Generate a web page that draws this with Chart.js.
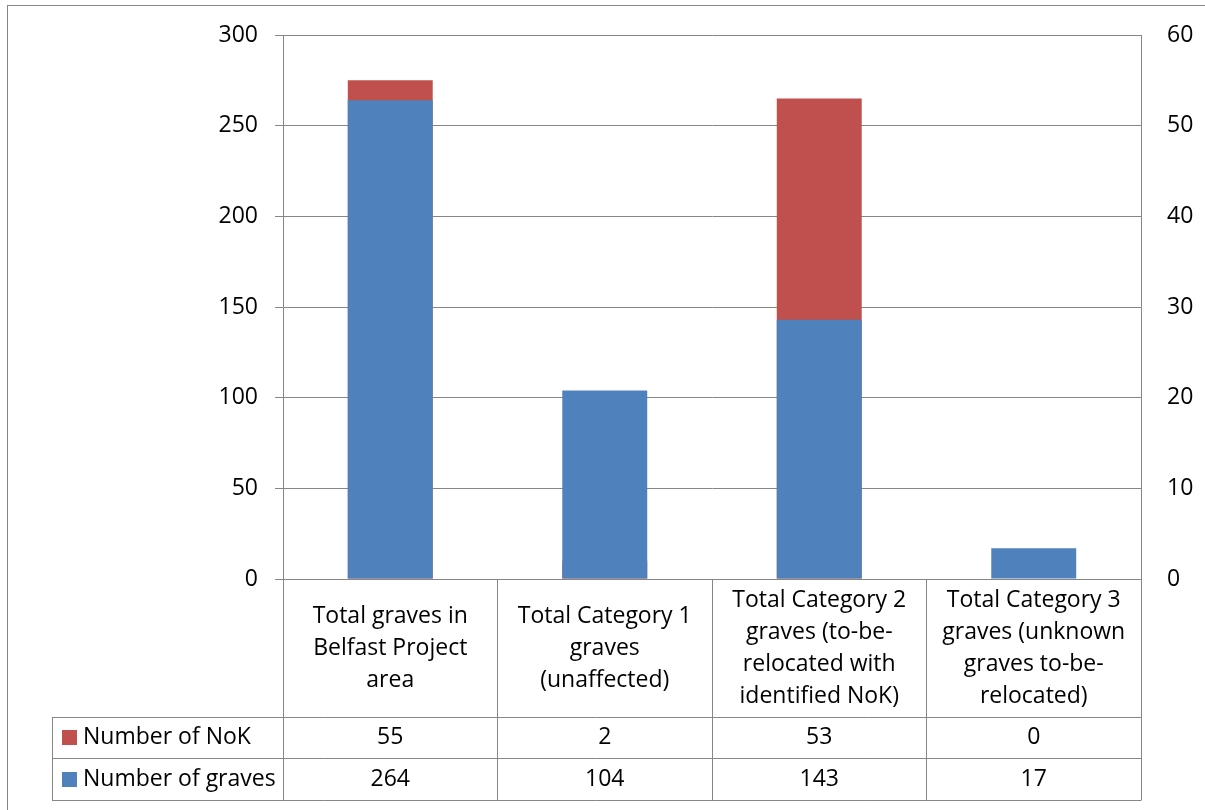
<!DOCTYPE html>
<html>
<head>
<meta charset="utf-8">
<script src="https://cdn.jsdelivr.net/npm/chart.js@4.4.0/dist/chart.umd.min.js"></script>
<style>
  html, body { margin: 0; padding: 0; background: #fff; }
  #wrap { width: 1205px; height: 810px; }
</style>
</head>
<body>
<div id="wrap"><canvas id="myChart" width="1205" height="810"></canvas></div>
<script>
// categories (already wrapped the way the table shows them)
var categories = [
  ['Total graves in', 'Belfast Project', 'area'],
  ['Total Category 1', 'graves', '(unaffected)'],
  ['Total Category 2', 'graves (to-be-', 'relocated with', 'identified NoK)'],
  ['Total Category 3', 'graves (unknown', 'graves to-be-', 'relocated)']
];
var nokCounts = [55, 2, 53, 0];
var graveCounts = [264, 104, 143, 17];
var leftTicks = [0, 50, 100, 150, 200, 250, 300];
var rightTicks = [0, 10, 20, 30, 40, 50, 60];

var blue = '#4F81BD';
var red = '#C0504D';
var lineGray = '#868686';
var fontFamily = '"Open Sans", sans-serif';
var fontSize = 23;

function snap(p) { return Math.round(p - 0.5) + 0.5; }

// fixed axis widths, and no extra label padding so the plot sits where the table expects it
function fitWidth(w) {
  return function(s) {
    s.width = w;
    s.paddingTop = 0;
    s.paddingBottom = 0;
  };
}

// draws the outer frame and the data table under the plot
var dataTable = {
  id: 'dataTable',
  beforeDraw: function(chart) {
    var c = chart.ctx;
    c.save();
    c.fillStyle = '#fff';
    c.fillRect(0, 0, chart.width, chart.height);
    c.strokeStyle = lineGray;
    c.lineWidth = 1;
    c.strokeRect(7.5, 5.5, chart.width + 40, chart.height + 40);
    c.restore();
  },
  afterDraw: function(chart) {
    var c = chart.ctx;
    var area = chart.chartArea;
    var xs = chart.scales.x;
    var n = categories.length;
    var colW = (area.right - area.left) / n;
    var top = area.bottom;
    var headBottom = top + 138;
    var rowH = 41.5;
    var legendLeft = 52;
    var rows = [
      { label: chart.data.datasets[0].label, color: red, values: nokCounts },
      { label: chart.data.datasets[1].label, color: blue, values: graveCounts }
    ];
    var bottom = headBottom + rowH * rows.length;

    function line(x1, y1, x2, y2) {
      c.beginPath(); c.moveTo(x1, y1); c.lineTo(x2, y2); c.stroke();
    }

    c.save();
    c.strokeStyle = lineGray;
    c.lineWidth = 1;
    line(area.left, snap(top), area.right, snap(top));
    line(legendLeft, snap(headBottom), area.right, snap(headBottom));
    for (var r = 0; r < rows.length; r++) {
      var yb = snap(headBottom + rowH * (r + 1));
      line(legendLeft, yb, area.right + 0.5, yb);
    }
    for (var i = 0; i <= n; i++) {
      var xl = snap(area.left + colW * i);
      line(xl, top, xl, bottom);
    }
    line(snap(legendLeft), headBottom, snap(legendLeft), bottom);

    c.fillStyle = '#000';
    c.font = fontSize + 'px ' + fontFamily;
    c.textBaseline = 'middle';
    c.textAlign = 'center';
    var lh = 32;
    var midHead = (top + headBottom) / 2;
    for (var j = 0; j < n; j++) {
      var cx = xs.getPixelForValue(j);
      var lines = categories[j];
      var y0 = midHead - (lines.length - 1) * lh / 2;
      for (var k = 0; k < lines.length; k++) {
        c.fillText(lines[k], cx, y0 + k * lh);
      }
    }
    for (var r2 = 0; r2 < rows.length; r2++) {
      var cy = headBottom + rowH * r2 + rowH / 2;
      c.fillStyle = rows[r2].color;
      c.fillRect(62, Math.round(cy - 7.5), 15, 15);
      c.fillStyle = '#000';
      c.textAlign = 'left';
      c.fillText(rows[r2].label, 83, cy);
      c.textAlign = 'center';
      for (var j2 = 0; j2 < n; j2++) {
        c.fillText(String(rows[r2].values[j2]), xs.getPixelForValue(j2), cy);
      }
    }
    c.restore();
  }
};

var ctx = document.getElementById('myChart').getContext('2d');
var chart = new Chart(ctx, {
  type: 'bar',
  data: {
    labels: categories,
    datasets: [{
      label: 'Number of NoK',
      data: nokCounts,
      yAxisID: 'y1',
      backgroundColor: red,
      grouped: false,
      order: 2,
      barPercentage: 0.396,
      categoryPercentage: 1
    }, {
      label: 'Number of graves',
      data: graveCounts,
      yAxisID: 'y',
      backgroundColor: blue,
      grouped: false,
      order: 1,
      barPercentage: 0.396,
      categoryPercentage: 1
    }]
  },
  options: {
    responsive: false,
    animation: false,
    events: [],
    layout: { autoPadding: false, padding: { top: 35, bottom: 231, left: 0, right: 0 } },
    plugins: { legend: { display: false }, tooltip: { enabled: false } },
    scales: {
      x: { display: false },
      y: {
        position: 'left',
        min: 0,
        max: 300,
        afterBuildTicks: function(s) { s.ticks = leftTicks.map(function(v) { return { value: v }; }); },
        afterFit: fitWidth(283),
        grid: { color: lineGray, lineWidth: 1, tickLength: 8 },
        border: { color: lineGray, width: 1 },
        ticks: { padding: 17, color: '#000', font: { family: fontFamily, size: fontSize } }
      },
      y1: {
        position: 'right',
        min: 0,
        max: 60,
        afterBuildTicks: function(s) { s.ticks = rightTicks.map(function(v) { return { value: v }; }); },
        afterFit: fitWidth(64),
        grid: { drawOnChartArea: false, drawTicks: false },
        border: { color: lineGray, width: 1 },
        ticks: { padding: 26, color: '#000', font: { family: fontFamily, size: fontSize } }
      }
    }
  },
  plugins: [dataTable]
});
</script>
</body>
</html>
